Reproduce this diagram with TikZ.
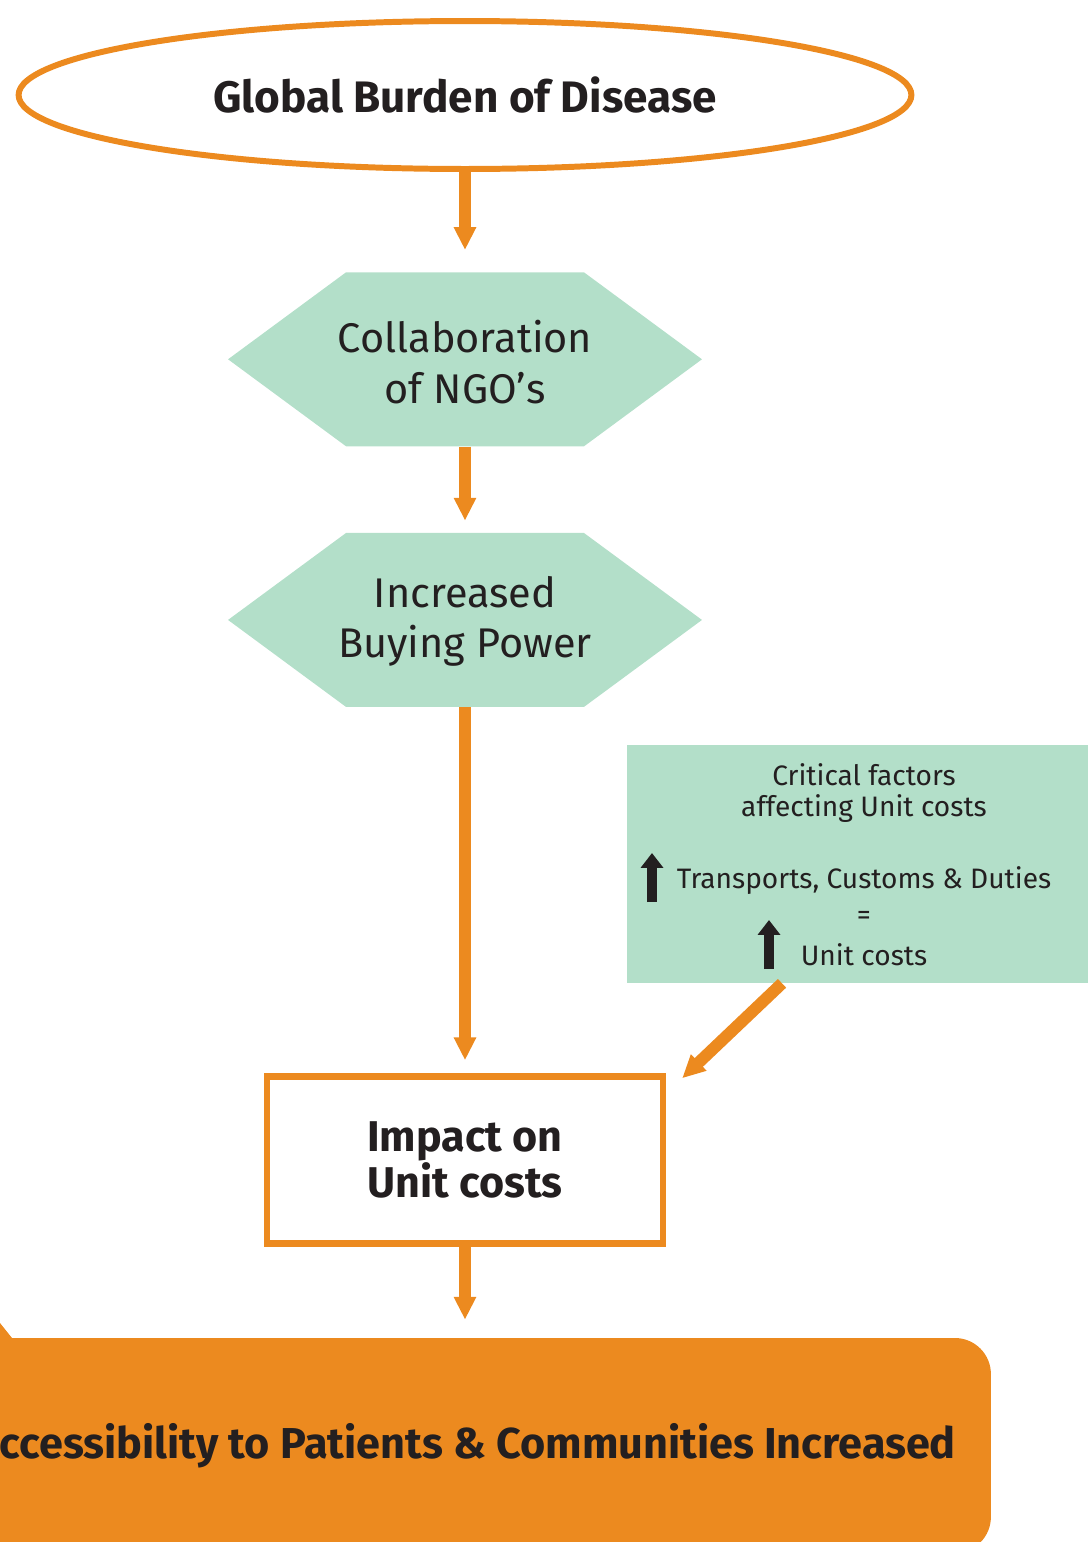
\documentclass[tikz,border=0pt]{standalone}
\usepackage{fontspec}
\setmainfont{Fira Sans}
\usepackage{tikz}
\usetikzlibrary{shapes,arrows.meta,positioning}

\definecolor{ngoorange}{HTML}{EC8A1F}
\definecolor{ngogreen}{HTML}{B3DFC9}
\definecolor{ngotext}{HTML}{231F20}

\tikzset{
  flow/.style={draw=ngoorange, line width=6.8pt,
    -{Triangle[width=12pt,length=13pt]}},
  hexbox/.style={signal, signal to=east and west, signal pointer angle=72.8,
    fill=ngogreen, minimum width=9.48cm, minimum height=3.48cm,
    inner sep=0pt},
  hexlabel/.style={align=center, text=ngotext, inner sep=0pt,
    font=\fontsize{23.6}{28.8}\selectfont},
  crittext/.style={align=center, text=ngotext, inner sep=0pt,
    font=\fontsize{16}{18}\selectfont},
  uptick/.style={draw=ngotext, line width=6.2pt,
    -{Triangle[width=12.5pt,length=8.5pt]}}
}

\begin{document}
\begin{tikzpicture}[x=0.02cm, y=-0.02cm]
\clip (0,0) rectangle (1088,1542);
% main chain
\node[draw=ngoorange, line width=3.4pt, ellipse, minimum width=17.86cm,
    minimum height=2.96cm, text=ngotext,
    font=\fontsize{25.1}{28}\selectfont\bfseries] (burden) at (465,95)
    {Global Burden of Disease};
\node[hexbox, below=2cm of burden,
    label={[hexlabel, yshift=-0.05cm]center:{Collaboration\\of NGO’s}}]
    (collab) {};
\node[hexbox, below=1.72cm of collab,
    label={[hexlabel, yshift=-0.03cm]center:{Increased\\Buying Power}}]
    (buying) {};
\node[draw=ngoorange, line width=3.7pt, minimum width=7.92cm,
    minimum height=3.34cm, align=center, text=ngotext,
    font=\fontsize{24.5}{26}\selectfont\bfseries,
    below=7.32cm of buying] (impact) {Impact on\\Unit costs};
\node[fill=ngoorange, rounded corners=0.72cm, minimum width=21.04cm,
    minimum height=4.3cm, text=ngotext,
    font=\fontsize{24.6}{26}\selectfont\bfseries,
    below=1.82cm of impact] (access)
    {Accessibility to Patients \& Communities Increased};
\fill[ngoorange] (0,1323) -- (12,1338) -- (0,1338) -- cycle;

% side box
\node[fill=ngogreen, minimum width=9.46cm, minimum height=4.76cm,
    inner sep=0pt] (crit) at (863.5,864) {};
\node[crittext] (critfactors) at (864,793)
    {Critical factors\\affecting Unit costs};
\node[crittext] (transport) at (864,881) {Transports, Customs \& Duties};
\node[crittext] (equals) at (864,918) {=};
\node[crittext] (unitcosts) at (864,955) {Unit costs};
\draw[uptick] (652,902) -- (652,853);
\draw[uptick] (769,969) -- (769,920);

% arrows
\draw[flow, shorten >=0.44cm] (burden) -- (collab);
\draw[flow, shorten >=0.24cm] (collab) -- (buying);
\draw[flow, shorten >=0.26cm] (buying) -- (impact);
\draw[flow, shorten >=0.36cm] (impact) -- (access.north -| impact);
\draw[flow] ([xshift=-1.63cm]crit.south)
    -- ([xshift=0.32cm,yshift=-0.1cm]impact.north east);
\end{tikzpicture}
\end{document}
